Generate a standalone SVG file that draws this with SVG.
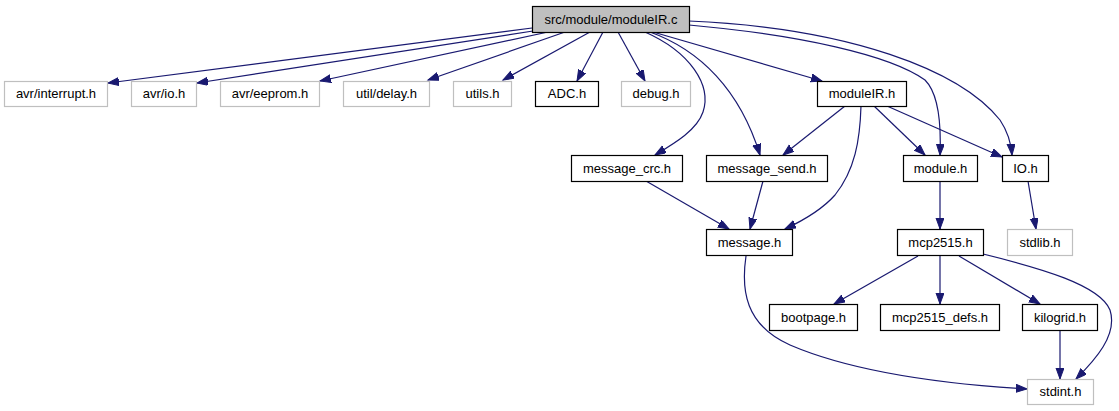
<svg xmlns="http://www.w3.org/2000/svg" width="1119" height="411" viewBox="0 0 1119 411">
<style>
.n rect{fill:#fff;stroke:#000;stroke-width:1.2}
.g rect{fill:#fff;stroke:#bfbfbf;stroke-width:1.2}
.r rect{fill:#bfbfbf;stroke:#000;stroke-width:1.2}
text{font-family:"Liberation Sans",Arial,sans-serif;font-size:13px;text-anchor:middle;fill:#000}
.e path{fill:none;stroke:#191970;stroke-width:1.2;marker-end:url(#a)}
</style>
<defs>
<marker id="a" markerUnits="userSpaceOnUse" markerWidth="13" markerHeight="10" refX="11" refY="4" orient="auto">
<path d="M0,0 L11,4 L0,8 z" fill="#191970" stroke="#191970" stroke-width="1"/>
</marker>
</defs>
<rect width="1119" height="411" fill="#fff"/>
<g class="e" id="edges">
<path d="M532,28 L108,83"/>
<path d="M533,31 L197,83"/>
<path d="M548,32 L320,81"/>
<path d="M565,32 L428,80"/>
<path d="M590,32 L503,80"/>
<path d="M603,32 L577,81"/>
<path d="M618,32 L645,81"/>
<path d="M645,32 C690,52 712,85 703,112 C697,130 675,143 655,155"/>
<path d="M650,32 C700,50 740,90 760,155"/>
<path d="M653,32 L822,81"/>
<path d="M689,21 C850,28 960,70 1000,120 C1008,132 1011,142 1012,155"/>
<path d="M689,25 C800,35 890,55 925,80 C940,95 941,130 940,155"/>
<path d="M845,106 L783,155"/>
<path d="M861,106 C860,140 855,170 835,195 C820,212 800,222 785,229"/>
<path d="M874,106 L925,155"/>
<path d="M887,106 L1002,157"/>
<path d="M646,181 L729,229"/>
<path d="M763,181 L750,229"/>
<path d="M940,181 L940,229"/>
<path d="M1028,181 L1036,229"/>
<path d="M918,256 L834,304"/>
<path d="M940,256 L940,304"/>
<path d="M959,256 L1040,304"/>
<path d="M983,254 C1040,268 1100,285 1110,310 C1118,335 1095,360 1076,379"/>
<path d="M1060,330 L1060,379"/>
<path d="M746,256 C741,290 745,325 790,345 C860,375 960,385 1027,389"/>
</g>
<g id="root" class="r"><rect x="532.5" y="6.5" width="157" height="26"/><text x="611" y="24">src/module/moduleIR.c</text></g>
<g id="avr_interrupt" class="g"><rect x="4.5" y="81.5" width="103" height="25"/><text x="56" y="98">avr/interrupt.h</text></g>
<g id="avr_io" class="g"><rect x="131.5" y="81.5" width="65" height="25"/><text x="164" y="98">avr/io.h</text></g>
<g id="avr_eeprom" class="g"><rect x="220.5" y="81.5" width="99" height="25"/><text x="270" y="98">avr/eeprom.h</text></g>
<g id="util_delay" class="g"><rect x="343.5" y="81.5" width="86" height="25"/><text x="386.5" y="98">util/delay.h</text></g>
<g id="utils" class="g"><rect x="453.5" y="81.5" width="58" height="25"/><text x="482.5" y="98">utils.h</text></g>
<g id="adc" class="n"><rect x="535.5" y="81.5" width="63" height="25"/><text x="567" y="98">ADC.h</text></g>
<g id="debug" class="g"><rect x="621.5" y="81.5" width="69" height="25"/><text x="656" y="98">debug.h</text></g>
<g id="moduleir_h" class="n"><rect x="817.5" y="81.5" width="89" height="25"/><text x="862" y="98">moduleIR.h</text></g>
<g id="message_crc" class="n"><rect x="571.5" y="155.5" width="111" height="26"/><text x="627" y="173">message_crc.h</text></g>
<g id="message_send" class="n"><rect x="706.5" y="155.5" width="121" height="26"/><text x="767" y="173">message_send.h</text></g>
<g id="module" class="n"><rect x="903.5" y="155.5" width="74" height="26"/><text x="940.5" y="173">module.h</text></g>
<g id="io" class="n"><rect x="1002.5" y="155.5" width="46" height="26"/><text x="1025.5" y="173">IO.h</text></g>
<g id="message" class="n"><rect x="706.5" y="229.5" width="86" height="26"/><text x="749.5" y="247">message.h</text></g>
<g id="mcp2515" class="n"><rect x="897.5" y="229.5" width="86" height="26"/><text x="940.5" y="247">mcp2515.h</text></g>
<g id="stdlib" class="g"><rect x="1007.5" y="229.5" width="65" height="26"/><text x="1040" y="247">stdlib.h</text></g>
<g id="bootpage" class="n"><rect x="769.5" y="304.5" width="88" height="26"/><text x="813.5" y="322">bootpage.h</text></g>
<g id="mcp2515_defs" class="n"><rect x="880.5" y="304.5" width="119" height="26"/><text x="940" y="322">mcp2515_defs.h</text></g>
<g id="kilogrid" class="n"><rect x="1022.5" y="304.5" width="75" height="26"/><text x="1060" y="322">kilogrid.h</text></g>
<g id="stdint" class="g"><rect x="1027.5" y="379.5" width="66" height="25"/><text x="1060.5" y="396">stdint.h</text></g>
</svg>
